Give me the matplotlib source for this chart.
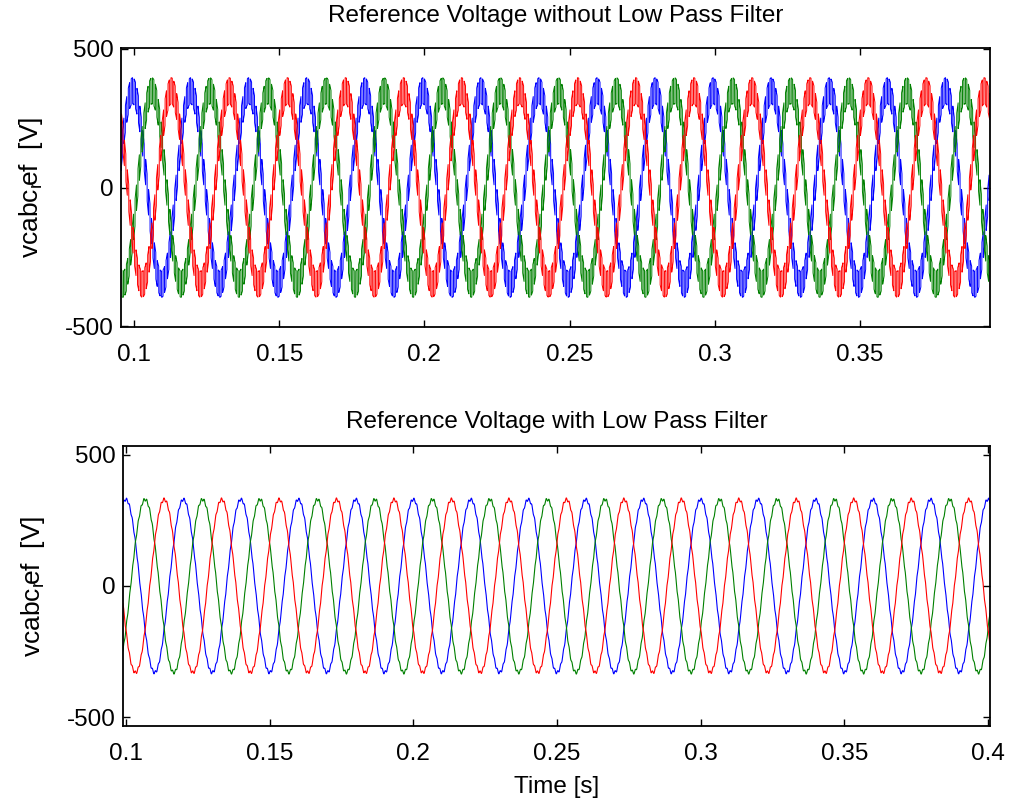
import numpy as np
import matplotlib
matplotlib.use("Agg")
import matplotlib.pyplot as plt
from matplotlib.ticker import FixedLocator, FixedFormatter

plt.rcParams['font.family'] = ['Liberation Sans', 'DejaVu Sans']
plt.rcParams['mathtext.fontset'] = 'custom'
plt.rcParams['mathtext.rm'] = 'Liberation Sans'
plt.rcParams['mathtext.it'] = 'Liberation Sans'

# ---- data ----
phase_names = ["a", "b", "c"]
phase_colors = ["#0000ff", "#008000", "#ff0000"]
phase_shift_deg = [0, -120, 120]
fundamental_hz = 50
# unfiltered reference (top)
amp_unfiltered = 348
ripple_unfiltered = 47
ripple_hz_unfiltered = 1000
peak_time_unfiltered = 0.0995
# filtered reference (bottom)
amp_filtered = 330
ripple_filtered = 6
ripple_hz_filtered = 1000
peak_time_filtered = 0.1000

x_ticks = [0.1, 0.15, 0.2, 0.25, 0.3, 0.35, 0.4]
x_ticklabels = ["0.1", "0.15", "0.2", "0.25", "0.3", "0.35", "0.4"]
y_ticks = [-500, 0, 500]
y_ticklabels = ["-500", "0", "500"]
titles = ["Reference Voltage without Low Pass Filter",
          "Reference Voltage with Low Pass Filter"]
ylabel = r"vcabc$_{\mathregular{r}}\!$ef  [V]"
xlabel = "Time [s]"

t = np.arange(0.09, 0.41, 2e-5)

def wave(amp, tpk, shift):
    return amp * np.cos(2 * np.pi * fundamental_hz * (t - tpk) + np.deg2rad(shift))

fig = plt.figure(figsize=(10.13, 8.02), dpi=100)
ax1 = fig.add_axes([121/1013, 1-327/802, (990-121)/1013, (327-48)/802])
ax2 = fig.add_axes([123/1013, 1-726/802, (990-123)/1013, (726-446)/802])

for name, col, sh in zip(phase_names, phase_colors, phase_shift_deg):
    base = wave(amp_unfiltered, peak_time_unfiltered, sh)
    rip = ripple_unfiltered * np.sign(np.sin(2 * np.pi * ripple_hz_unfiltered * t + np.deg2rad(sh)))
    ax1.plot(t, base + rip, color=col, lw=0.7)
for name, col, sh in zip(phase_names, phase_colors, phase_shift_deg):
    base = wave(amp_filtered, peak_time_filtered, sh)
    rip = ripple_filtered * np.sin(2 * np.pi * ripple_hz_filtered * t)
    ax2.plot(t, base + rip, color=col, lw=0.8)

ax1.set_xlim(0.0955, 0.3948)
ax1.set_ylim(-502, 502)
ax2.set_xlim(0.099, 0.4007)
ax2.set_ylim(-534, 534)

for ax, title, tpad, lx in zip([ax1, ax2], titles, [19, 13], [-0.0875, -0.0877]):
    ax.xaxis.set_major_locator(FixedLocator(x_ticks))
    ax.xaxis.set_major_formatter(FixedFormatter(x_ticklabels))
    ax.yaxis.set_major_locator(FixedLocator(y_ticks))
    ax.yaxis.set_major_formatter(FixedFormatter(y_ticklabels))
    ax.tick_params(direction='in', length=5, width=1.0, labelsize=17.5,
                   top=True, right=True)
    ax.tick_params(axis='x', pad=12)
    ax.tick_params(axis='y', pad=5)
    for s in ax.spines.values():
        s.set_linewidth(1.3)
    ax.set_title(title, fontsize=17.5, pad=tpad)
    ax.set_ylabel(ylabel, fontsize=19)
    ax.yaxis.set_label_coords(lx, 0.5)

ax2.set_xlabel(xlabel, fontsize=17.5, labelpad=8)

fig.savefig("out.png", dpi=100)
